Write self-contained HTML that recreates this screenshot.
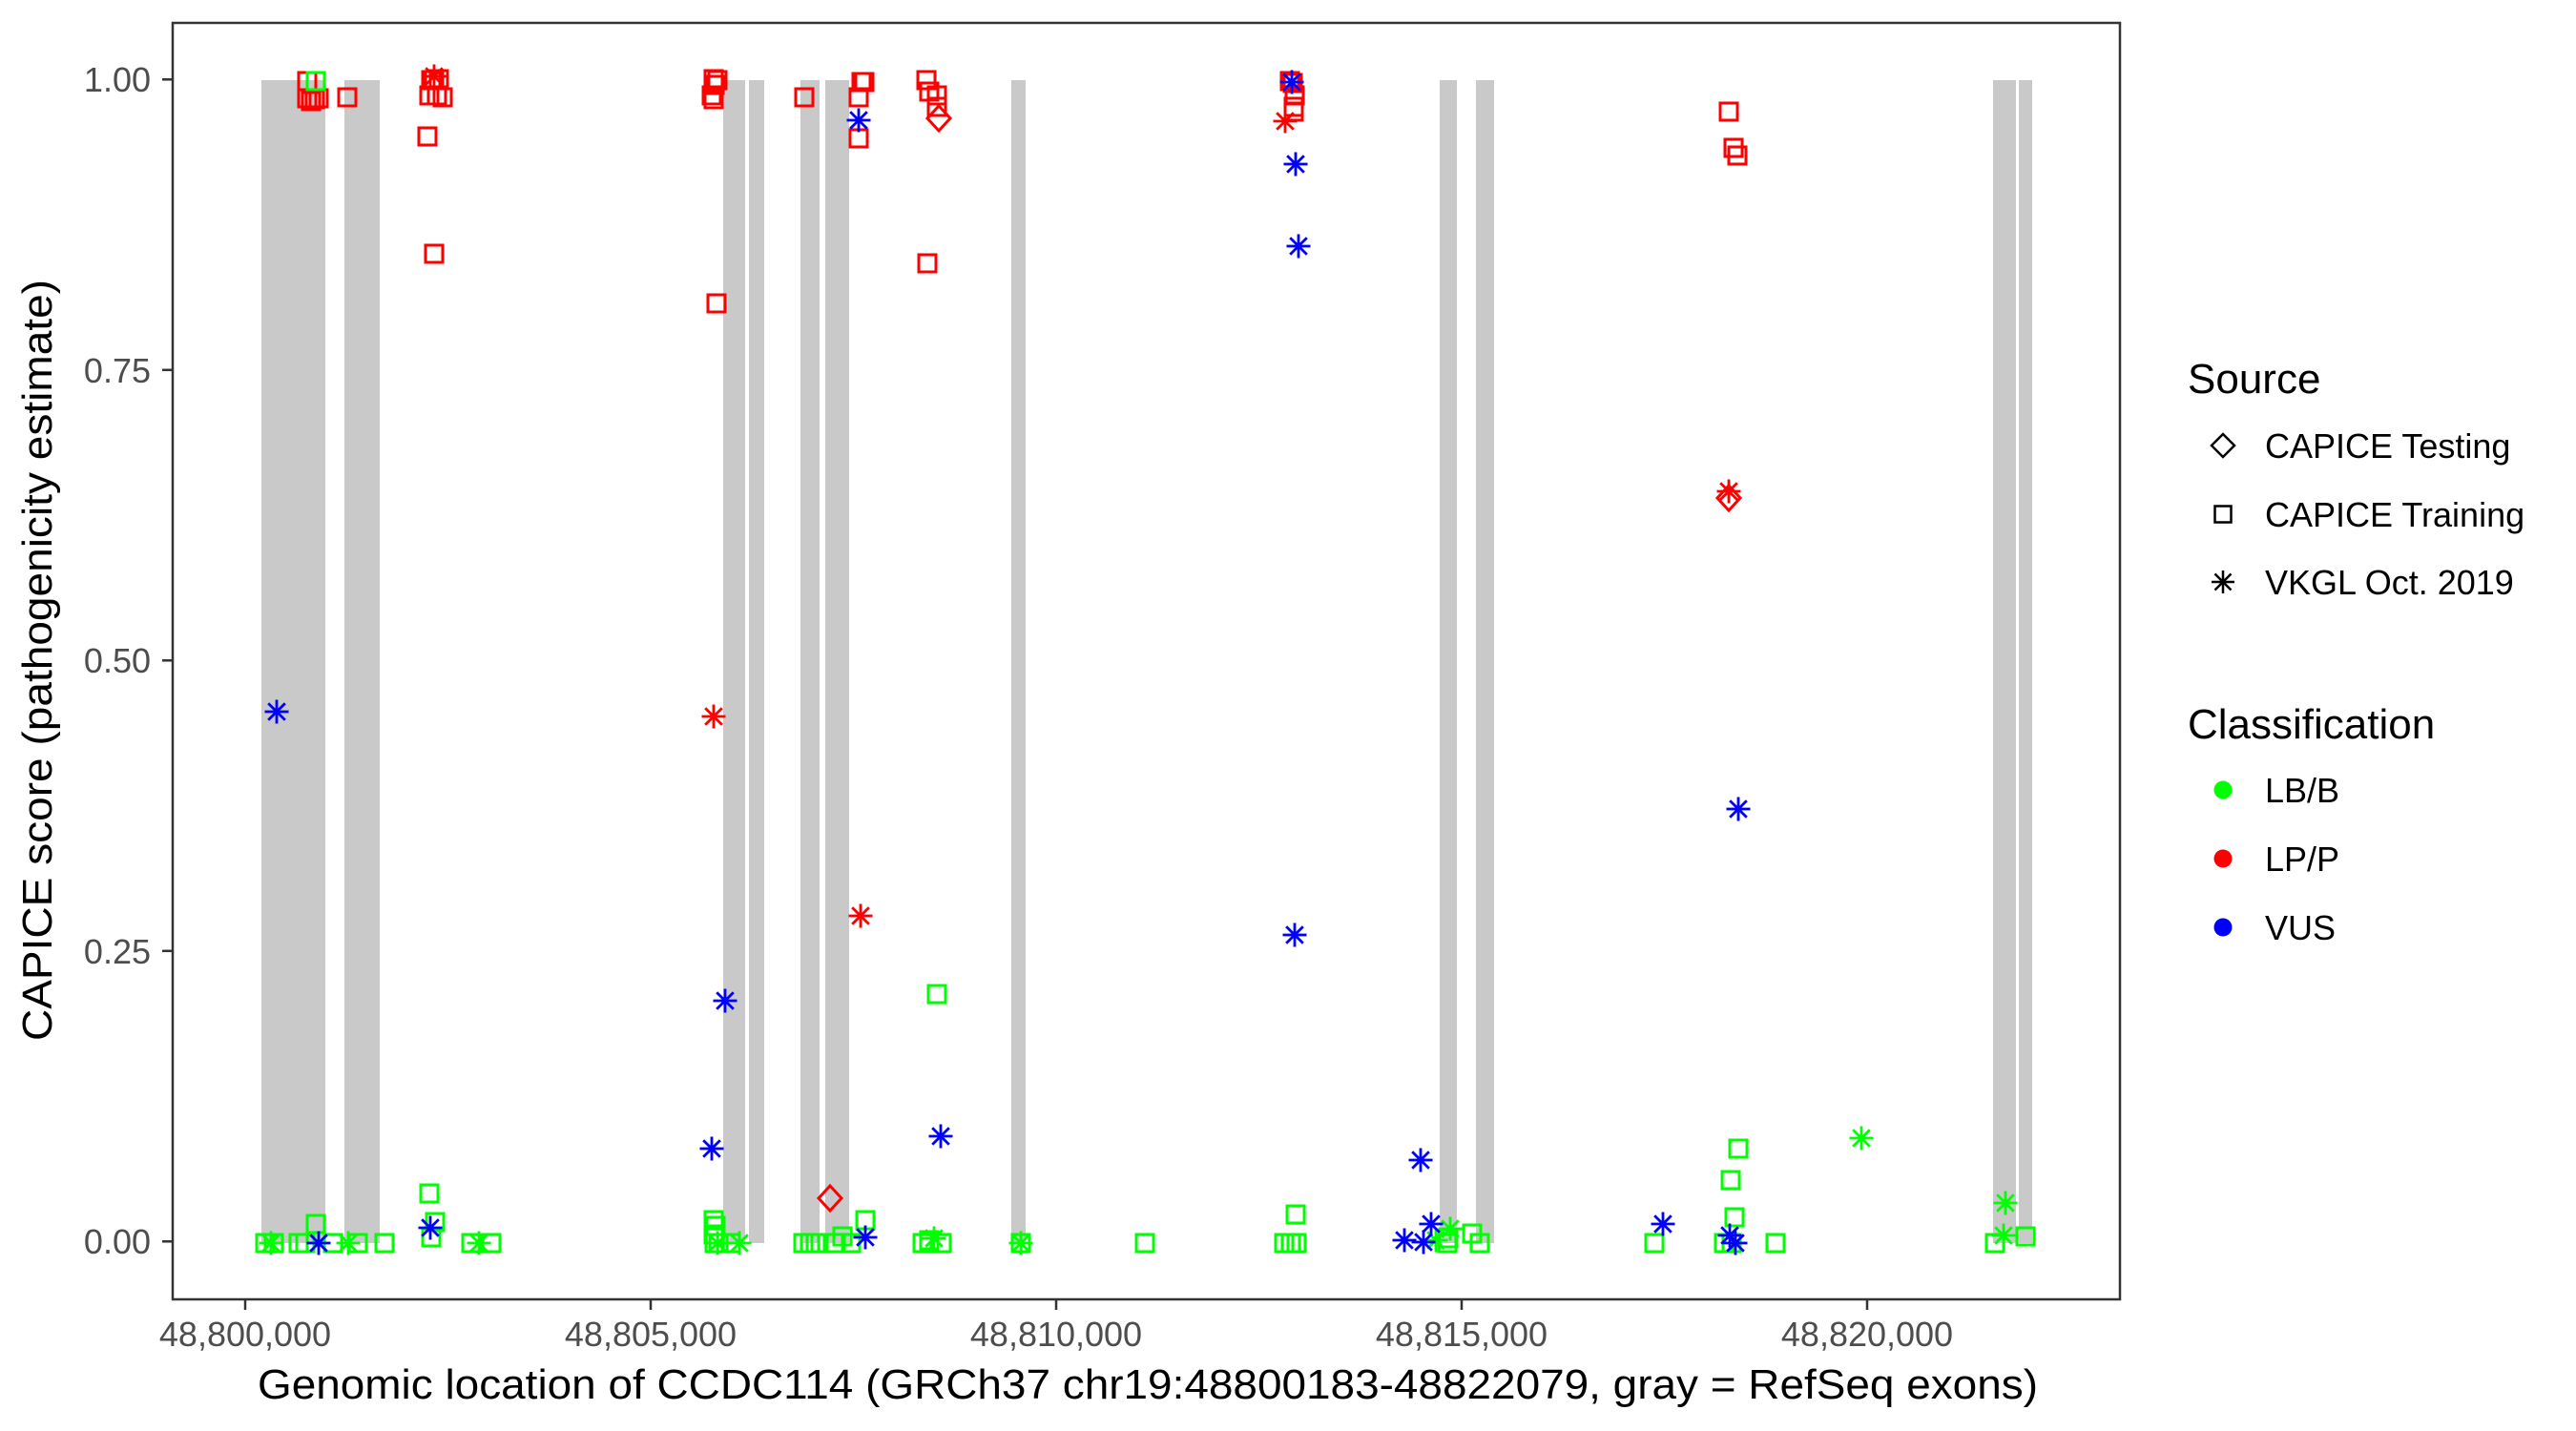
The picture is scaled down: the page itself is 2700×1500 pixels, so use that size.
<!DOCTYPE html>
<html><head><meta charset="utf-8"><style>html,body{margin:0;padding:0;background:#fff}svg{display:block}</style></head>
<body>
<svg width="2700" height="1500" viewBox="0 0 2700 1500" xmlns="http://www.w3.org/2000/svg" font-family="Liberation Sans, Arial, sans-serif">
<defs>
<rect id="sq" x="-9" y="-9" width="18" height="18" fill="none" stroke-width="3"/>
<path id="as" d="M0,-12.5V12.5M-12.5,0H12.5M-8.8,-8.8L8.8,8.8M-8.8,8.8L8.8,-8.8" fill="none" stroke-width="2.8"/>
<path id="di" d="M0,-13L12,0L0,13L-12,0Z" fill="none" stroke-width="3"/>
</defs>
<rect width="2700" height="1500" fill="#fff"/>
<g fill="#C9C9C9">
<rect x="274" y="84" width="67" height="1219"/>
<rect x="361" y="84" width="37" height="1219"/>
<rect x="758" y="84" width="23" height="1219"/>
<rect x="785" y="84" width="16" height="1219"/>
<rect x="839" y="84" width="20" height="1219"/>
<rect x="865" y="84" width="25" height="1219"/>
<rect x="1060" y="84" width="15" height="1219"/>
<rect x="1509" y="84" width="18" height="1219"/>
<rect x="1547" y="84" width="19" height="1219"/>
<rect x="2089" y="84" width="24" height="1219"/>
<rect x="2116" y="84" width="14" height="1219"/>
</g>
<g stroke="#FF0000">
<use href="#sq" x="322" y="85"/><use href="#sq" x="326" y="106"/><use href="#sq" x="330" y="104"/><use href="#sq" x="334" y="103"/><use href="#sq" x="322" y="103"/>
<use href="#sq" x="364" y="102"/>
<use href="#sq" x="452" y="84"/><use href="#sq" x="455" y="84"/><use href="#sq" x="460" y="83"/><use href="#sq" x="450" y="100"/><use href="#sq" x="458" y="100"/><use href="#sq" x="464" y="102"/>
<use href="#as" x="455" y="80"/>
<use href="#sq" x="448" y="143"/><use href="#sq" x="455" y="266"/>
<use href="#sq" x="748" y="83"/><use href="#sq" x="752" y="84"/><use href="#sq" x="749" y="89"/><use href="#sq" x="746" y="100"/><use href="#sq" x="748" y="104"/>
<use href="#sq" x="751" y="318"/>
<use href="#sq" x="843" y="102"/>
<use href="#sq" x="903" y="86"/><use href="#sq" x="906" y="86"/><use href="#sq" x="900" y="102"/><use href="#sq" x="900" y="145"/>
<use href="#sq" x="971" y="84"/><use href="#sq" x="974" y="96"/><use href="#sq" x="982" y="100"/><use href="#sq" x="982" y="112"/>
<use href="#di" x="984" y="124"/>
<use href="#sq" x="972" y="276"/>
<use href="#sq" x="1352" y="85"/><use href="#sq" x="1355" y="87"/><use href="#sq" x="1357" y="100"/><use href="#sq" x="1356" y="112"/><use href="#sq" x="1356" y="117"/>
<use href="#as" x="1347" y="127"/>
<use href="#sq" x="1812" y="117"/><use href="#sq" x="1817" y="155"/><use href="#sq" x="1821" y="163"/>
<use href="#as" x="1812" y="515"/><use href="#di" x="1812" y="522"/>
<use href="#as" x="748" y="751"/><use href="#as" x="902" y="960"/>
<use href="#di" x="870" y="1256"/>
</g>
<g stroke="#00FF00"><use href="#sq" x="331" y="85"/></g>
<g stroke="#0000FF">
<use href="#as" x="900" y="126"/>
<use href="#as" x="1354" y="86"/><use href="#as" x="1358" y="172"/><use href="#as" x="1361" y="258"/>
<use href="#as" x="290" y="746"/>
<use href="#as" x="760" y="1049"/><use href="#as" x="746" y="1204"/><use href="#as" x="986" y="1191"/>
<use href="#as" x="1822" y="848"/><use href="#as" x="1357" y="980"/><use href="#as" x="1489" y="1216"/>
</g>
<g stroke="#00FF00">
<use href="#sq" x="982" y="1042"/><use href="#sq" x="450" y="1251"/><use href="#sq" x="331" y="1283"/>
<use href="#sq" x="456" y="1281"/><use href="#sq" x="452" y="1297"/>
<use href="#sq" x="748" y="1279"/><use href="#sq" x="750" y="1285"/><use href="#sq" x="748" y="1294"/>
<use href="#sq" x="907" y="1279"/>
<use href="#sq" x="278" y="1303"/><use href="#sq" x="287" y="1303"/><use href="#sq" x="313" y="1303"/><use href="#sq" x="320" y="1303"/><use href="#sq" x="349" y="1303"/><use href="#sq" x="375" y="1303"/><use href="#sq" x="403" y="1303"/><use href="#sq" x="494" y="1303"/><use href="#sq" x="515" y="1303"/>
<use href="#sq" x="749" y="1303"/><use href="#sq" x="753" y="1303"/><use href="#sq" x="766" y="1303"/>
<use href="#sq" x="842" y="1303"/><use href="#sq" x="849" y="1303"/><use href="#sq" x="855" y="1303"/><use href="#sq" x="876" y="1303"/><use href="#sq" x="883" y="1296"/><use href="#sq" x="892" y="1303"/>
<use href="#sq" x="967" y="1303"/><use href="#sq" x="974" y="1300"/><use href="#sq" x="987" y="1303"/><use href="#sq" x="1070" y="1303"/><use href="#sq" x="1200" y="1303"/>
<use href="#as" x="284" y="1303"/><use href="#as" x="365" y="1303"/><use href="#as" x="502" y="1303"/><use href="#as" x="752" y="1303"/><use href="#as" x="775" y="1303"/><use href="#as" x="979" y="1298"/><use href="#as" x="1070" y="1303"/>
<use href="#sq" x="1822" y="1204"/><use href="#sq" x="1814" y="1237"/><use href="#sq" x="1358" y="1273"/><use href="#sq" x="1818" y="1276"/>
<use href="#as" x="1951" y="1193"/><use href="#as" x="2102" y="1261"/><use href="#as" x="1520" y="1288"/><use href="#as" x="2100" y="1295"/><use href="#as" x="1505" y="1300"/>
<use href="#sq" x="1346" y="1303"/><use href="#sq" x="1353" y="1303"/><use href="#sq" x="1359" y="1303"/><use href="#sq" x="1517" y="1303"/><use href="#sq" x="1518" y="1298"/><use href="#sq" x="1543" y="1293"/><use href="#sq" x="1551" y="1303"/>
<use href="#sq" x="1734" y="1303"/><use href="#sq" x="1807" y="1303"/><use href="#sq" x="1815" y="1303"/><use href="#sq" x="1861" y="1303"/><use href="#sq" x="2091" y="1303"/><use href="#sq" x="2123" y="1296"/>
</g>
<g stroke="#0000FF">
<use href="#as" x="334" y="1303"/><use href="#as" x="451" y="1287"/><use href="#as" x="907" y="1297"/>
<use href="#as" x="1743" y="1283"/><use href="#as" x="1500" y="1283"/><use href="#as" x="1472" y="1300"/><use href="#as" x="1492" y="1302"/>
<use href="#as" x="1813" y="1295"/><use href="#as" x="1819" y="1303"/>
</g>
<rect x="181" y="24" width="2041" height="1338" fill="none" stroke="#333" stroke-width="2.5"/>
<g stroke="#333" stroke-width="2.5">
<line x1="170" y1="83.3" x2="181" y2="83.3"/><line x1="170" y1="387.8" x2="181" y2="387.8"/><line x1="170" y1="692.3" x2="181" y2="692.3"/><line x1="170" y1="996.8" x2="181" y2="996.8"/><line x1="170" y1="1301.3" x2="181" y2="1301.3"/>
<line x1="257" y1="1362" x2="257" y2="1373"/><line x1="682" y1="1362" x2="682" y2="1373"/><line x1="1107" y1="1362" x2="1107" y2="1373"/><line x1="1532" y1="1362" x2="1532" y2="1373"/><line x1="1957" y1="1362" x2="1957" y2="1373"/>
</g>
<g fill="#4D4D4D" font-size="36" text-anchor="end">
<text x="158" y="96">1.00</text><text x="158" y="401">0.75</text><text x="158" y="705">0.50</text><text x="158" y="1010">0.25</text><text x="158" y="1314">0.00</text>
</g>
<g fill="#4D4D4D" font-size="36" text-anchor="middle">
<text x="257" y="1411">48,800,000</text><text x="682" y="1411">48,805,000</text><text x="1107" y="1411">48,810,000</text><text x="1532" y="1411">48,815,000</text><text x="1957" y="1411">48,820,000</text>
</g>
<text x="270" y="1466" font-size="44" fill="#000" textLength="1866" lengthAdjust="spacingAndGlyphs">Genomic location of CCDC114 (GRCh37 chr19:48800183-48822079, gray = RefSeq exons)</text>
<text transform="translate(54,1091) rotate(-90)" font-size="44" fill="#000" textLength="798" lengthAdjust="spacingAndGlyphs">CAPICE score (pathogenicity estimate)</text>
<text x="2293" y="412" font-size="44" fill="#000">Source</text>
<g stroke="#000" fill="none" stroke-width="2.5">
<path d="M2330,455L2342,467L2330,479L2318,467Z"/>
<rect x="2321.5" y="530.5" width="17" height="17"/>
<path d="M2330,598V622M2318,610H2342M2321.5,601.5L2338.5,618.5M2321.5,618.5L2338.5,601.5"/>
</g>
<g font-size="36" fill="#000">
<text x="2374" y="480">CAPICE Testing</text>
<text x="2374" y="552">CAPICE Training</text>
<text x="2374" y="623">VKGL Oct. 2019</text>
</g>
<text x="2293" y="774" font-size="44" fill="#000">Classification</text>
<circle cx="2330" cy="828" r="9.5" fill="#00FF00"/>
<circle cx="2330" cy="900" r="9.5" fill="#FF0000"/>
<circle cx="2330" cy="972" r="9.5" fill="#0000FF"/>
<g font-size="36" fill="#000">
<text x="2374" y="841">LB/B</text><text x="2374" y="913">LP/P</text><text x="2374" y="985">VUS</text>
</g>
</svg>
</body></html>
